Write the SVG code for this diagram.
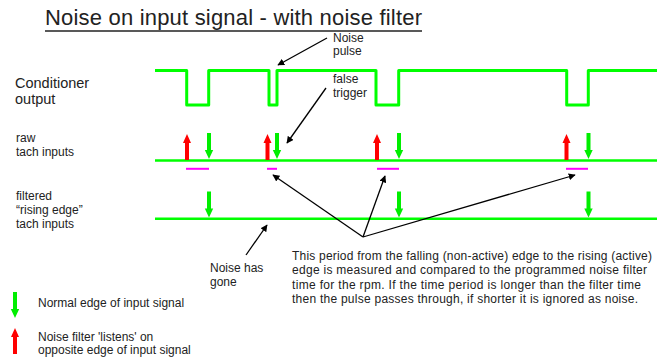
<svg xmlns="http://www.w3.org/2000/svg" width="657" height="360" viewBox="0 0 657 360">
<style>
text{font-family:"Liberation Sans",Arial,sans-serif;fill:#222}
.sig{fill:none;stroke:#00ff00;stroke-width:3;stroke-linejoin:round}
.base{stroke:#00ff00;stroke-width:2.5}
.mag{stroke:#ff00ff;stroke-width:2}
.ptr{stroke:#000;stroke-width:1.3;fill:none;marker-end:url(#ah)}
.s12{font-size:12px}
.s14{font-size:14.5px}
</style>
<defs>
<marker id="ah" viewBox="0 0 10 10" refX="9" refY="5" markerWidth="7" markerHeight="7" markerUnits="userSpaceOnUse" orient="auto"><path d="M0,0 L10,5 L0,10 Z" fill="#000"/></marker>
<path id="gdown" d="M-2,-26 H2 V-9 H4.2 L0,0 L-4.2,-9 H-2 Z" fill="#00ee00"/>
<path id="rup" d="M-2,26 H2 V9 H4 L0,0 L-4,9 H-2 Z" fill="#ff0000"/>
</defs>

<g id="title">
<text x="45" y="25" font-size="22" textLength="377">Noise on input signal - with noise filter</text>
<line x1="45" y1="31" x2="422" y2="31" stroke="#222" stroke-width="1.5"/>
</g>

<g id="labels">
<text class="s14" x="15" y="88">Conditioner</text>
<text class="s14" x="15" y="104">output</text>
<text class="s12" x="16" y="142">raw</text>
<text class="s12" x="16" y="156">tach inputs</text>
<text class="s12" x="16" y="200">filtered</text>
<text class="s12" x="16" y="214">“rising edge”</text>
<text class="s12" x="16" y="228">tach inputs</text>
</g>

<g id="conditioner-output">
<path class="sig" d="M155,70.5 H186.7 V105 H208.7 V70.5 H269 V105 H277 V70.5 H376 V105 H398.7 V70.5 H566.7 V105 H588.3 V70.5 H660"/>
</g>

<g id="raw-tach">
<line class="base" x1="155" y1="160.5" x2="660" y2="160.5"/>
<use href="#rup" x="187" y="134"/>
<use href="#gdown" x="209" y="159"/>
<use href="#rup" x="267.5" y="134"/>
<use href="#gdown" x="277" y="159"/>
<use href="#rup" x="377" y="134"/>
<use href="#gdown" x="399" y="159"/>
<use href="#rup" x="566.5" y="134"/>
<use href="#gdown" x="588.5" y="159"/>
<line class="mag" x1="186" y1="168.8" x2="209" y2="168.8"/>
<line class="mag" x1="267" y1="168.8" x2="277" y2="168.8"/>
<line class="mag" x1="377" y1="168.8" x2="399" y2="168.8"/>
<line class="mag" x1="566" y1="168.8" x2="588" y2="168.8"/>
</g>

<g id="filtered-tach">
<line class="base" x1="155" y1="218.8" x2="660" y2="218.8"/>
<use href="#gdown" x="209" y="217.5"/>
<use href="#gdown" x="399" y="217.5"/>
<use href="#gdown" x="588.5" y="217.5"/>
</g>

<g id="connectors">
<line class="ptr" x1="327" y1="38" x2="278" y2="65"/>
<line class="ptr" x1="326" y1="88" x2="287" y2="143"/>
<line class="ptr" x1="363" y1="237" x2="273" y2="175"/>
<line class="ptr" x1="363" y1="237" x2="385" y2="176"/>
<line class="ptr" x1="363" y1="237" x2="575" y2="175"/>
<line class="ptr" x1="246" y1="255" x2="267" y2="225"/>
</g>

<g id="notes">
<text class="s12" x="333" y="42">Noise</text>
<text class="s12" x="333" y="55">pulse</text>
<text class="s12" x="333" y="83">false</text>
<text class="s12" x="333" y="97">trigger</text>
<text class="s12" x="210" y="272">Noise has</text>
<text class="s12" x="210" y="286">gone</text>
<text class="s12" x="292" y="260" textLength="360">This period from the falling (non-active) edge to the rising (active)</text>
<text class="s12" x="292" y="274.3" textLength="355">edge is measured and compared to the programmed noise filter</text>
<text class="s12" x="292" y="288.6" textLength="349">time for the rpm. If the time period is longer than the filter time</text>
<text class="s12" x="292" y="302.9" textLength="346">then the pulse passes through, if shorter it is ignored as noise.</text>
</g>

<g id="legend">
<use href="#gdown" x="15" y="318"/>
<text class="s12" x="38" y="307">Normal edge of input signal</text>
<use href="#rup" x="15" y="328"/>
<text class="s12" x="38" y="340.5">Noise filter 'listens' on</text>
<text class="s12" x="38" y="354">opposite edge of input signal</text>
</g>
</svg>
